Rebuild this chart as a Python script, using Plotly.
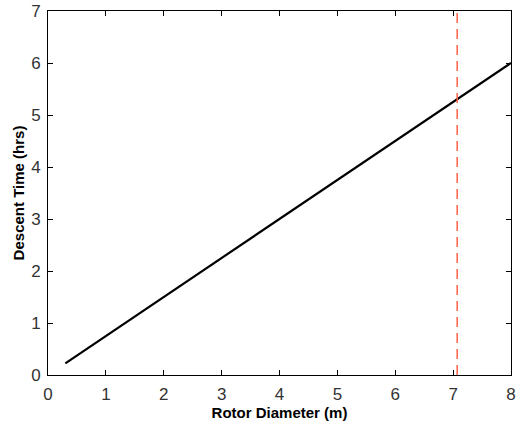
import plotly.graph_objects as go

# data
rotor_diameter = [0.3, 1.0, 2.0, 3.0, 4.0, 5.0, 6.0, 7.0, 8.0]
descent_time = [0.225, 0.75, 1.5, 2.25, 3.0, 3.75, 4.5, 5.25, 6.0]
limit_x = [7.07, 7.07]
limit_y = [0, 7]
x_ticks = [0, 1, 2, 3, 4, 5, 6, 7, 8]
y_ticks = [0, 1, 2, 3, 4, 5, 6, 7]

fig = go.Figure()
fig.add_trace(go.Scatter(x=rotor_diameter, y=descent_time, mode="lines",
                         line=dict(color="black", width=2.2), showlegend=False))
fig.add_trace(go.Scatter(x=limit_x, y=limit_y, mode="lines",
                         line=dict(color="#ff6347", width=1.5, dash="10px,6px"), showlegend=False))

axis_common = dict(showgrid=False, zeroline=False, showline=True, linecolor="black", linewidth=1,
                   mirror="ticks", ticks="inside", ticklen=5, tickcolor="black", automargin=False,
                   tickfont=dict(family="Liberation Sans, Arial", size=17, color="#333"))

fig.update_layout(
    width=521, height=421,
    margin=dict(l=48, r=10, t=11, b=46, autoexpand=False),
    paper_bgcolor="white", plot_bgcolor="white",
    xaxis=dict(range=[0, 8], tickvals=x_ticks, ticklabelstandoff=4,
               title=dict(text="<b>Rotor Diameter (m)</b>", standoff=0,
                          font=dict(family="Liberation Sans, Arial", size=15, color="black")),
               **axis_common),
    yaxis=dict(range=[0, 7], tickvals=y_ticks, ticklabelstandoff=3,
               title=dict(text="<b>Descent Time (hrs)</b>", standoff=2,
                          font=dict(family="Liberation Sans, Arial", size=15, color="black")),
               **axis_common),
)

fig.write_html("out.html")
